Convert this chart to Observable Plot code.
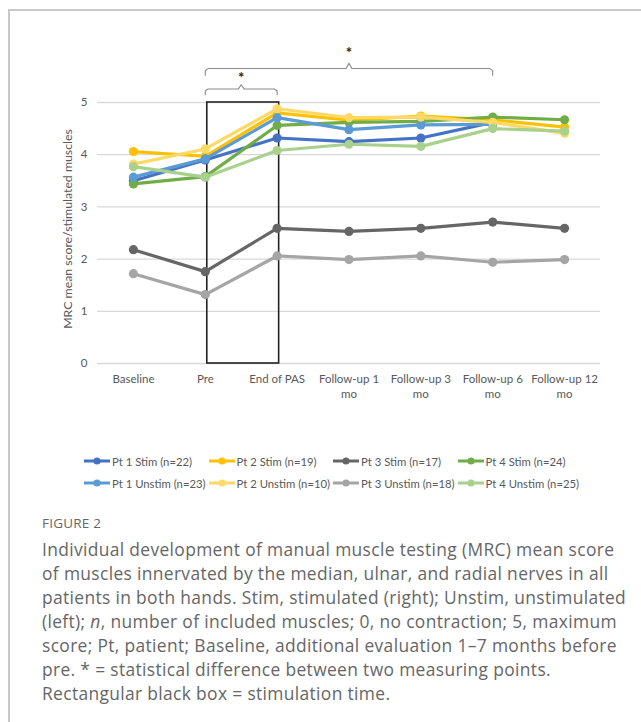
<!DOCTYPE html>
<html>
<head>
<meta charset="utf-8">
<script src="https://cdn.jsdelivr.net/npm/d3@7"></script>
<script src="https://cdn.jsdelivr.net/npm/@observablehq/plot@0.6"></script>
<style>
  html, body { margin: 0; padding: 0; background: #fff; }
  body { width: 641px; height: 722px; position: relative; overflow: hidden; font-family: Lato, sans-serif; }
  #frame { position: absolute; left: 8px; top: 9px; width: 700px; height: 800px; border-left: 2px solid #c9c9c9; border-top: 2px solid #c9c9c9; }
  #chart { position: absolute; left: 0; top: 0; }
  #legend { position: absolute; left: 83px; top: 452px; display: grid; grid-template-columns: repeat(4, 124.5px); row-gap: 4px; font-size: 11.3px; color: #595959; font-family: Lato, sans-serif; }
  .item { display: flex; align-items: center; height: 18px; white-space: nowrap; }
  .item svg { margin-right: 1px; }
  #fig { position: absolute; left: 42px; top: 514px; font-family: "Open Sans", sans-serif; font-size: 13.5px; color: #666; letter-spacing: 0.2px; }
  #cap { position: absolute; left: 42px; top: 537px; font-family: "Open Sans", sans-serif; font-size: 17.4px; letter-spacing: 0.35px; line-height: 24px; color: #666; white-space: nowrap; font-weight: 400; }
</style>
</head>
<body>
<div id="frame"></div>
<div id="chart"></div>
<div id="legend"></div>
<div id="fig">FIGURE 2</div>
<div id="cap">Individual development of manual muscle testing (MRC) mean score<br>of muscles innervated by the median, ulnar, and radial nerves in all<br>patients in both hands. Stim, stimulated (right); Unstim, unstimulated<br>(left); <i>n</i>, number of included muscles; 0, no contraction; 5, maximum<br>score; Pt, patient; Baseline, additional evaluation 1–7 months before<br>pre. * = statistical difference between two measuring points.<br>Rectangular black box = stimulation time.</div>
<script>
// ---- data ----
const categories = ["Baseline", "Pre", "End of PAS", "Follow-up 1 mo", "Follow-up 3 mo", "Follow-up 6 mo", "Follow-up 12 mo"];
const tickLabels = ["Baseline", "Pre", "End of PAS", "Follow-up 1\nmo", "Follow-up 3\nmo", "Follow-up 6\nmo", "Follow-up 12\nmo"];
const yTicks = [0, 1, 2, 3, 4, 5];
const seriesNames = ["Pt 1 Stim (n=22)", "Pt 2 Stim (n=19)", "Pt 3 Stim (n=17)", "Pt 4 Stim (n=24)",
                     "Pt 1 Unstim (n=23)", "Pt 2 Unstim (n=10)", "Pt 3 Unstim (n=18)", "Pt 4 Unstim (n=25)"];
const seriesColors = ["#4472C4", "#FFC000", "#666666", "#70AD47", "#5B9BD5", "#FFD966", "#A5A5A5", "#A9D18E"];
const pt1Stim   = [3.50, 3.90, 4.32, 4.25, 4.32, 4.62, null];
const pt2Stim   = [4.06, 3.97, 4.80, 4.66, 4.74, 4.67, 4.53];
const pt3Stim   = [2.18, 1.76, 2.59, 2.53, 2.59, 2.71, 2.59];
const pt4Stim   = [3.44, 3.58, 4.56, 4.62, 4.64, 4.72, 4.67];
const pt1Unstim = [3.57, 3.92, 4.71, 4.48, 4.57, 4.58, null];
const pt2Unstim = [3.82, 4.11, 4.88, 4.71, 4.72, 4.62, 4.41];
const pt3Unstim = [1.72, 1.32, 2.06, 1.99, 2.06, 1.94, 1.99];
const pt4Unstim = [3.77, 3.57, 4.08, 4.20, 4.16, 4.50, 4.45];
const seriesValues = [pt1Stim, pt2Stim, pt3Stim, pt4Stim, pt1Unstim, pt2Unstim, pt3Unstim, pt4Unstim];
const stimBox = ["Pre", "End of PAS"];            // stimulation period box
const sigPairs = [["Pre", "Follow-up 6 mo"], ["Pre", "End of PAS"]]; // significance brackets
const sigLabel = "*";

// ---- build ----
const idx = c => categories.indexOf(c);
const marks = [];
marks.push(Plot.gridY(yTicks, {stroke: "#d9d9d9", strokeOpacity: 1, strokeWidth: 1.3}));
marks.push(Plot.rect([{a: idx(stimBox[0]), b: idx(stimBox[1])}], {x1: "a", x2: "b", y1: () => 0, y2: () => 5, fill: "none", stroke: "#222", strokeWidth: 1.6, dx: 2}));
seriesNames.forEach((name, s) => {
  const data = seriesValues[s].map((v, i) => ({i, v})).filter(d => d.v != null);
  marks.push(Plot.line(data, {x: "i", y: "v", stroke: seriesColors[s], strokeWidth: 3.2}));
  marks.push(Plot.dot(data, {x: "i", y: "v", fill: seriesColors[s], r: 4.6}));
});
// brackets (levels in data units above the top of the axis)
const bracketLevels = [{line: 5.65, end: 5.52, notch: 5.75, star: 5.94}, {line: 5.26, end: 5.15, notch: 5.34, star: 5.46}];
sigPairs.forEach((p, k) => {
  const a = idx(p[0]), b = idx(p[1]), m = (a + b) / 2, L = bracketLevels[k];
  const pts = [[a, L.end], [a, L.line - 0.04], [a + 0.04, L.line], [m - 0.04, L.line], [m, L.notch], [m + 0.04, L.line], [b - 0.04, L.line], [b, L.line - 0.04], [b, L.end]];
  marks.push(Plot.line(pts, {x: d => d[0], y: d => d[1], stroke: "#8a8a8a", strokeWidth: 1.1}));
  marks.push(Plot.text([m], {x: d => d, y: () => L.star, text: () => sigLabel, fontSize: 15, fontWeight: "bold", fill: "#222"}));
});
marks.push(Plot.axisY(yTicks, {tickSize: 0, tickPadding: 10, fontSize: 11.5, fill: "#595959", label: null, tickFormat: d => String(d)}));
marks.push(Plot.axisX(d3.range(categories.length), {tickSize: 0, tickPadding: 9, fontSize: 11.5, fill: "#595959", lineHeight: 1.3, tickFormat: i => tickLabels[i], label: null}));
marks.push(Plot.text(["MRC mean score/stimulated muscles"], {frameAnchor: "left", textAnchor: "middle", rotate: -90, dx: -29, dy: -4, fontSize: 12.3, fill: "#595959", text: d => d}));

const plot = Plot.plot({
  width: 641, height: 410,
  marginLeft: 97, marginRight: 41, marginTop: 102, marginBottom: 47,
  x: {type: "linear", domain: [-0.5, categories.length - 0.5]},
  y: {domain: [0, 5]},
  style: {fontFamily: "Lato, sans-serif", background: "transparent", overflow: "visible"},
  marks
});
document.getElementById("chart").appendChild(plot);

// legend
const leg = document.getElementById("legend");
seriesNames.forEach((name, s) => {
  const el = document.createElement("div");
  el.className = "item";
  el.innerHTML = `<svg width="28" height="10"><line x1="1" x2="27" y1="5" y2="5" stroke="${seriesColors[s]}" stroke-width="3"/><circle cx="14" cy="5" r="3.6" fill="${seriesColors[s]}"/></svg><span>${name}</span>`;
  leg.appendChild(el);
});
</script>
</body>
</html>
